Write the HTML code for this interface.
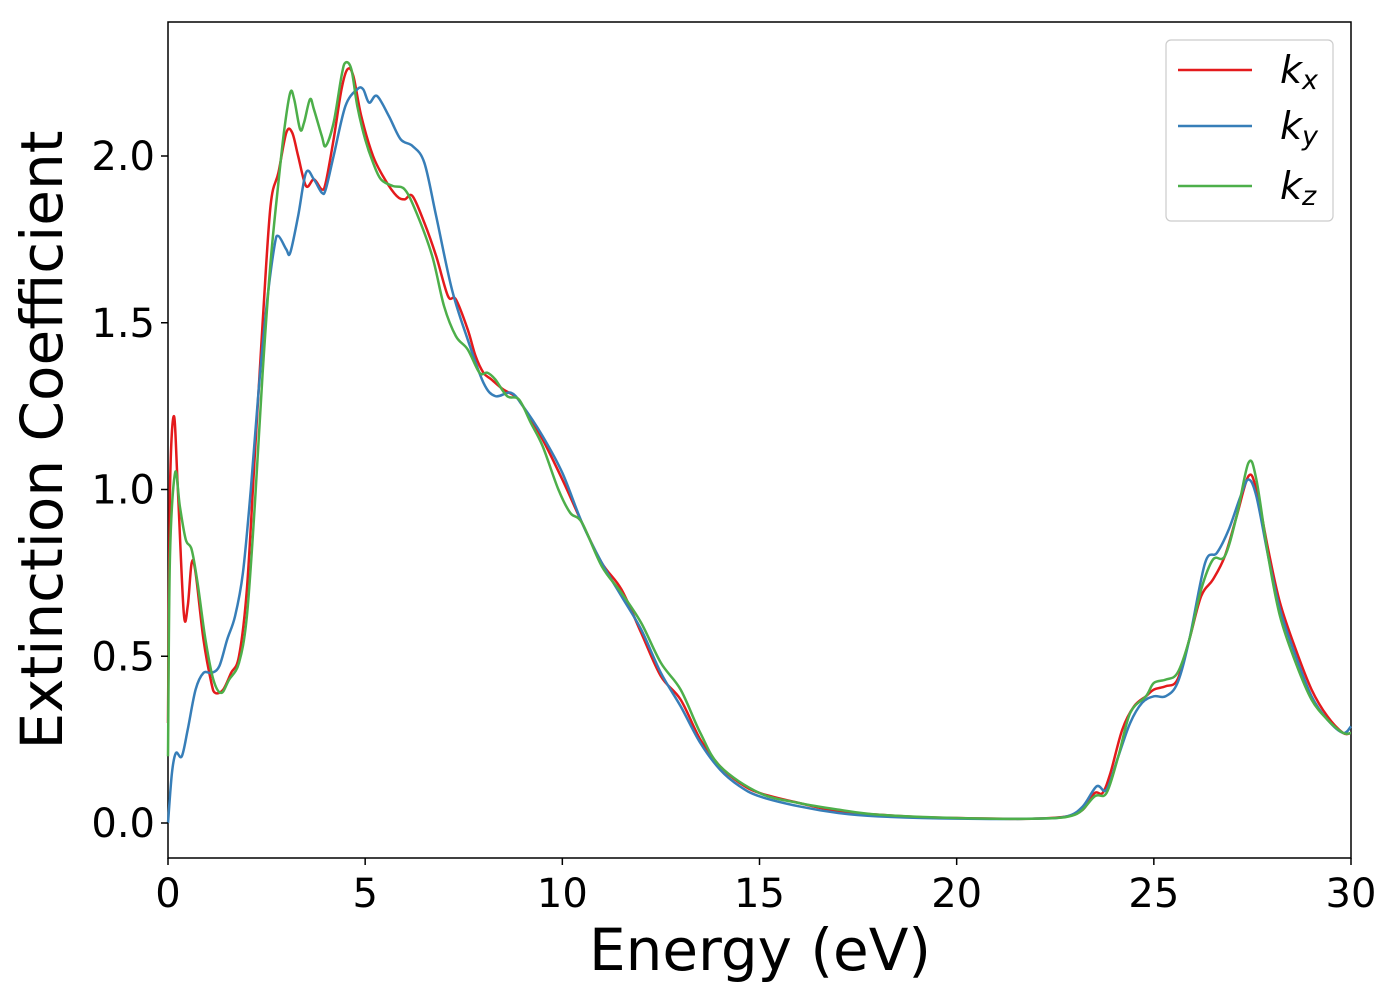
<!DOCTYPE html>
<html><head><meta charset="utf-8"><style>
body{margin:0;background:#fff;}
svg text{font-family:"DejaVu Sans","Liberation Sans",sans-serif;}
</style></head><body>
<svg id="chart" width="1400" height="1000">
<rect x="168" y="22" width="1183" height="836" fill="#fff" stroke="#000" stroke-width="1.5"/>
<g id="series"></g>
<g id="xticks"></g>
<g id="yticks"></g>
<text x="760" y="970" font-size="58" text-anchor="middle">Energy (eV)</text>
<text transform="translate(62,440) rotate(-90)" font-size="58" text-anchor="middle">Extinction Coefficient</text>
<g>
<rect x="1166" y="40" width="167" height="181" rx="5" fill="#fff" fill-opacity="0.8" stroke="#ccc" stroke-width="1.2"/>
<line x1="1178" y1="70" x2="1252" y2="70" stroke="#e41a1c" stroke-width="2.5"/>
<text x="1280" y="83" font-size="38" font-style="italic">k<tspan font-size="27" dy="6">x</tspan></text>
<line x1="1178" y1="126" x2="1252" y2="126" stroke="#377eb8" stroke-width="2.5"/>
<text x="1280" y="139" font-size="38" font-style="italic">k<tspan font-size="27" dy="6">y</tspan></text>
<line x1="1178" y1="186" x2="1252" y2="186" stroke="#4daf4a" stroke-width="2.5"/>
<text x="1280" y="199" font-size="38" font-style="italic">k<tspan font-size="27" dy="6">z</tspan></text>
</g>
</svg>
<script>
const xTicks=[0,5,10,15,20,25,30];
const yTicks=[0.0,0.5,1.0,1.5,2.0];
const kx=[[0,0.3],[0.05,1.0],[0.15,1.22],[0.25,1.0],[0.4,0.63],[0.5,0.65],[0.6,0.78],[0.7,0.75],[0.9,0.55],[1.1,0.42],[1.2,0.39],[1.4,0.4],[1.6,0.45],[1.8,0.5],[2.0,0.7],[2.2,1.1],[2.4,1.5],[2.6,1.85],[2.8,1.95],[3.0,2.07],[3.15,2.07],[3.3,2.0],[3.5,1.91],[3.7,1.93],[3.9,1.9],[4.0,1.92],[4.2,2.05],[4.4,2.2],[4.55,2.26],[4.7,2.24],[4.9,2.12],[5.2,2.0],[5.5,1.93],[5.8,1.88],[6.0,1.87],[6.2,1.88],[6.5,1.8],[6.8,1.7],[7.1,1.58],[7.3,1.57],[7.6,1.48],[7.8,1.4],[8.0,1.35],[8.2,1.33],[8.5,1.3],[8.8,1.28],[9.0,1.25],[9.5,1.15],[10,1.03],[10.5,0.9],[11,0.78],[11.5,0.7],[12,0.57],[12.5,0.44],[13,0.37],[13.5,0.25],[14,0.17],[14.5,0.12],[15,0.09],[16,0.06],[17,0.035],[18,0.025],[19,0.018],[20,0.015],[21,0.013],[22,0.013],[22.8,0.02],[23.2,0.04],[23.5,0.09],[23.7,0.09],[23.9,0.15],[24.2,0.28],[24.5,0.35],[24.8,0.38],[25.0,0.4],[25.3,0.41],[25.6,0.43],[25.9,0.55],[26.2,0.68],[26.5,0.73],[26.8,0.8],[27.1,0.92],[27.4,1.04],[27.6,1.0],[27.9,0.82],[28.2,0.66],[28.6,0.52],[29,0.4],[29.4,0.32],[29.8,0.27],[30,0.27]];
const ky=[[0,0],[0.1,0.15],[0.2,0.21],[0.35,0.2],[0.5,0.28],[0.7,0.4],[0.9,0.45],[1.1,0.45],[1.3,0.47],[1.5,0.55],[1.7,0.62],[1.9,0.75],[2.1,1.0],[2.3,1.3],[2.5,1.55],[2.7,1.73],[2.8,1.76],[3.0,1.72],[3.1,1.71],[3.3,1.82],[3.5,1.95],[3.7,1.93],[3.9,1.89],[4.0,1.9],[4.2,2.0],[4.5,2.15],[4.8,2.2],[4.95,2.2],[5.1,2.16],[5.3,2.18],[5.6,2.12],[5.9,2.05],[6.2,2.03],[6.5,1.98],[6.8,1.82],[7.2,1.6],[7.6,1.45],[8.0,1.32],[8.3,1.28],[8.7,1.29],[9.0,1.25],[9.5,1.16],[10,1.05],[10.5,0.9],[11,0.78],[11.5,0.68],[12,0.58],[12.5,0.45],[13,0.35],[13.5,0.24],[14,0.16],[14.5,0.11],[15,0.08],[16,0.05],[17,0.03],[18,0.02],[20,0.013],[22,0.013],[22.8,0.02],[23.2,0.05],[23.55,0.11],[23.8,0.1],[24.1,0.2],[24.4,0.3],[24.7,0.36],[25.0,0.38],[25.3,0.38],[25.6,0.42],[25.9,0.55],[26.3,0.78],[26.6,0.81],[26.9,0.88],[27.2,0.98],[27.4,1.03],[27.6,0.98],[27.9,0.8],[28.2,0.64],[28.6,0.5],[29,0.38],[29.4,0.31],[29.8,0.27],[30,0.29]];
const kz=[[0,0.2],[0.05,0.8],[0.18,1.05],[0.3,0.95],[0.45,0.85],[0.6,0.82],[0.75,0.72],[0.95,0.55],[1.15,0.43],[1.35,0.39],[1.55,0.43],[1.8,0.48],[2.0,0.62],[2.2,0.95],[2.4,1.35],[2.6,1.68],[2.8,1.92],[2.95,2.08],[3.1,2.19],[3.2,2.17],[3.35,2.08],[3.45,2.1],[3.6,2.17],[3.7,2.14],[3.9,2.06],[4.0,2.03],[4.2,2.1],[4.4,2.24],[4.5,2.28],[4.65,2.26],[4.8,2.15],[5.0,2.05],[5.2,1.98],[5.4,1.93],[5.7,1.91],[6.0,1.9],[6.3,1.83],[6.7,1.7],[7.0,1.55],[7.3,1.46],[7.6,1.42],[7.9,1.35],[8.1,1.35],[8.3,1.33],[8.6,1.28],[8.9,1.27],[9.2,1.2],[9.5,1.13],[9.9,1.0],[10.2,0.93],[10.5,0.9],[11,0.77],[11.5,0.69],[12,0.6],[12.5,0.48],[13,0.4],[13.5,0.27],[14,0.17],[15,0.09],[16,0.06],[17,0.04],[18,0.025],[20,0.015],[22,0.013],[23,0.025],[23.5,0.08],[23.8,0.09],[24.1,0.2],[24.4,0.33],[24.8,0.38],[25.0,0.42],[25.3,0.43],[25.6,0.45],[25.9,0.55],[26.2,0.7],[26.5,0.79],[26.8,0.8],[27.1,0.92],[27.4,1.08],[27.6,1.03],[27.9,0.8],[28.2,0.62],[28.6,0.48],[29,0.37],[29.4,0.31],[29.8,0.27],[30,0.27]];
const NS='http://www.w3.org/2000/svg';
function X(v){return 168+(v-0)*(1351-168)/30;}
function Y(v){return 823-v*(823-156)/2;}
function pathFor(d){
  const p=d.map(a=>[X(a[0]),Y(a[1])]);
  let s='M'+p[0][0].toFixed(2)+','+p[0][1].toFixed(2);
  for(let i=0;i<p.length-1;i++){
    const p0=p[Math.max(0,i-1)],p1=p[i],p2=p[i+1],p3=p[Math.min(p.length-1,i+2)];
    const c1x=p1[0]+(p2[0]-p0[0])/6,c1y=p1[1]+(p2[1]-p0[1])/6;
    const c2x=p2[0]-(p3[0]-p1[0])/6,c2y=p2[1]-(p3[1]-p1[1])/6;
    s+=' C'+c1x.toFixed(2)+','+c1y.toFixed(2)+' '+c2x.toFixed(2)+','+c2y.toFixed(2)+' '+p2[0].toFixed(2)+','+p2[1].toFixed(2);
  }
  return s;
}
const sg=document.getElementById('series');
[[kx,'#e41a1c','series-kx'],[ky,'#377eb8','series-ky'],[kz,'#4daf4a','series-kz']].forEach(s=>{
  const el=document.createElementNS(NS,'path');
  el.setAttribute('d',pathFor(s[0]));
  el.setAttribute('fill','none');el.setAttribute('stroke',s[1]);el.setAttribute('stroke-width','2.5');
  
  
  sg.appendChild(el);
});
const xg=document.getElementById('xticks');
xTicks.forEach(t=>{
  const l=document.createElementNS(NS,'line');
  l.setAttribute('x1',X(t));l.setAttribute('x2',X(t));l.setAttribute('y1',858);l.setAttribute('y2',865);l.setAttribute('stroke','#000');l.setAttribute('stroke-width','1.5');
  
  
  xg.appendChild(l);
  const tx=document.createElementNS(NS,'text');
  tx.setAttribute('x',X(t));tx.setAttribute('y',907);tx.setAttribute('font-size','40');tx.setAttribute('text-anchor','middle');
  tx.textContent=t;
  
  
  xg.appendChild(tx);
});
const yg=document.getElementById('yticks');
yTicks.forEach(t=>{
  const l=document.createElementNS(NS,'line');
  l.setAttribute('x1',161);l.setAttribute('x2',168);l.setAttribute('y1',Y(t));l.setAttribute('y2',Y(t));l.setAttribute('stroke','#000');l.setAttribute('stroke-width','1.5');
  
  
  yg.appendChild(l);
  const tx=document.createElementNS(NS,'text');
  tx.setAttribute('x',155);tx.setAttribute('y',Y(t)+14);tx.setAttribute('font-size','40');tx.setAttribute('text-anchor','end');
  tx.textContent=t.toFixed(1);
  
  
  yg.appendChild(tx);
});
</script>
</body></html>
